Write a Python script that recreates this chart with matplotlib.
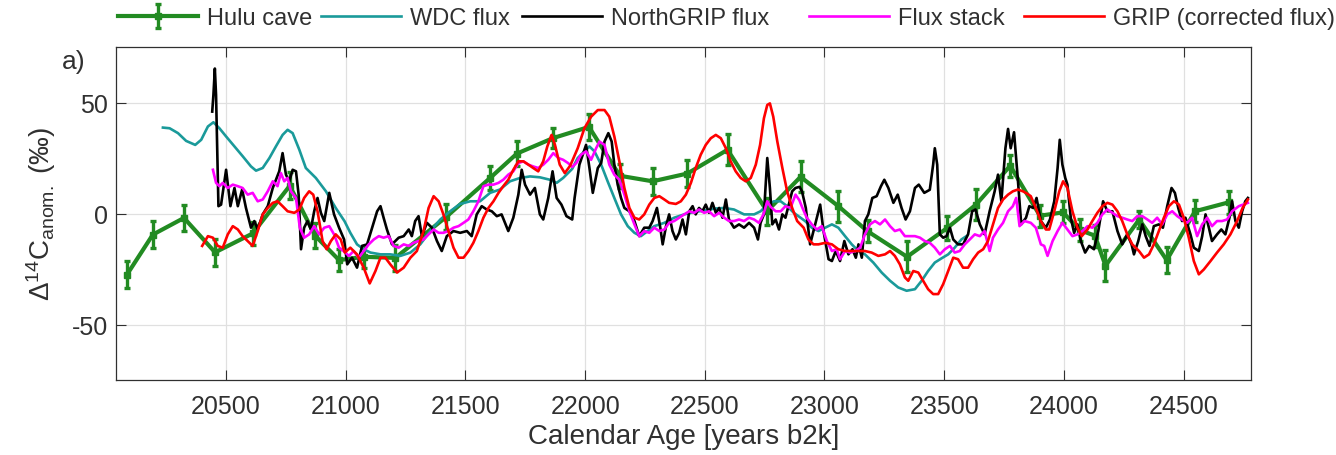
import matplotlib
matplotlib.use('Agg')
import matplotlib.pyplot as plt

plt.rcParams['font.family'] = ['Liberation Sans', 'DejaVu Sans']
plt.rcParams['mathtext.fontset'] = 'custom'
plt.rcParams['mathtext.rm'] = 'Liberation Sans'
plt.rcParams['mathtext.it'] = 'Liberation Sans:italic'
plt.rcParams['mathtext.bf'] = 'Liberation Sans:bold'

# ---------------- data ----------------
hulu_x = [20086, 20194, 20324, 20454, 20611, 20766, 20872, 20972, 21075, 21207,
          21420, 21603, 21715, 21867, 22016, 22145, 22282, 22427, 22595, 22760,
          22900, 23058, 23180, 23345, 23513, 23633, 23776, 23900, 23996, 24068,
          24130, 24174, 24315, 24430, 24548, 24688]
hulu_y = [-27.5, -9.5, -2, -17.5, -9, 12.5, -10, -21, -19.5, -20,
          -1.5, 16, 27, 34, 39, 17, 14.5, 18, 28.7, 1,
          16.5, 3.3, -8, -19.5, -6.5, 4, 21.5, -1, 0.5, -7.5,
          -10, -23.5, -2.7, -21, 1, 5]
hulu_err = [6, 6, 6, 6, 5, 6, 5.5, 5, 5, 6,
            6, 5.5, 5.5, 4.5, 6, 5.5, 6, 6, 7, 6,
            7, 7, 5, 7, 5.5, 7, 5, 5, 5, 5,
            5, 7, 4, 6, 5, 5]

wdc_x = [20236, 20264, 20299, 20333, 20371, 20396, 20424, 20447, 20472, 20500,
         20535, 20570, 20604, 20625, 20653, 20681, 20708, 20736, 20757, 20778,
         20806, 20833, 20875, 20917, 20958, 20995, 21019, 21047, 21075, 21103,
         21145, 21186, 21228, 21270, 21311, 21353, 21395, 21436, 21478, 21520,
         21561, 21603, 21644, 21686, 21728, 21770, 21811, 21853, 21881, 21908,
         21946, 21969, 21997, 22018, 22039, 22067, 22094, 22122, 22150, 22178,
         22206, 22233, 22261, 22289, 22331, 22372, 22414, 22456, 22497, 22539,
         22581, 22622, 22664, 22706, 22733, 22761, 22789, 22817, 22844, 22872,
         22900, 22919, 22947, 22975, 23003, 23031, 23058, 23086, 23114, 23142,
         23169, 23204, 23239, 23274, 23308, 23343, 23378, 23406, 23433, 23461,
         23489, 23517, 23544, 23572, 23593]
wdc_y = [38.7, 38.4, 36.2, 32.7, 30.9, 33.2, 39.2, 41.1, 38.4, 34.7,
         30.2, 25.7, 21.2, 19.3, 20.5, 25, 30.2, 35.4, 37.7, 36.2,
         28.7, 20.5, 16, 10, 2.5, -3.5, -8.7, -13.9, -16.1, -17.6,
         -18.4, -18.4, -19.1, -17.6, -13.9, -7.9, -2.7, 1, 4.3, 5.5,
         5.5, 9.3, 10.8, 14.5, 16, 16.7, 16.3, 15.2, 13.8, 16,
         20.1, 25, 28, 30.2, 28, 22, 14.5, 7, -0.4, -5.7,
         -8.7, -10.2, -7.9, -5.7, -4.2, -1.9, -0.4, 0.7, 1.3, 2.2,
         2.5, 1.8, -0.4, -0.4, 1, 4, 5.5, 5.5, 3.3, 0.3,
         -1.9, -3.4, -6.4, -7.9, -6.4, -4.9, -6.4, -10.2, -13.9, -16.9,
         -18.4, -22.1, -26.6, -30.3, -33.3, -34.8, -34.1, -30.3, -25.9, -22.1,
         -20.2, -18.4, -15.4, -11.7, -10.2]

ngrip_x = [20442, 20447, 20453, 20458, 20468, 20479, 20500, 20518, 20535, 20549,
           20567, 20583, 20604, 20618, 20632, 20653, 20674, 20695, 20722, 20736,
           20750, 20764, 20778, 20792, 20803, 20813, 20826, 20840, 20854, 20868,
           20882, 20896, 20910, 20931, 20951, 20972, 20993, 21006, 21026, 21047,
           21068, 21089, 21110, 21131, 21145, 21158, 21172, 21193, 21221, 21242,
           21263, 21276, 21290, 21304, 21318, 21339, 21360, 21381, 21401, 21422,
           21450, 21478, 21506, 21526, 21547, 21568, 21589, 21610, 21631, 21651,
           21679, 21700, 21721, 21735, 21749, 21770, 21790, 21811, 21825, 21846,
           21864, 21881, 21901, 21922, 21946, 21956, 21976, 22004, 22018, 22032,
           22053, 22067, 22081, 22097, 22111, 22122, 22136, 22150, 22164, 22185,
           22206, 22226, 22247, 22268, 22282, 22300, 22314, 22324, 22338, 22351,
           22365, 22379, 22393, 22407, 22421, 22435, 22449, 22462, 22476, 22490,
           22504, 22518, 22532, 22546, 22560, 22574, 22588, 22601, 22622, 22643,
           22664, 22685, 22706, 22722, 22733, 22747, 22761, 22772, 22782, 22796,
           22810, 22824, 22837, 22851, 22865, 22879, 22896, 22906, 22922, 22940,
           22961, 22982, 22996, 23017, 23031, 23047, 23065, 23083, 23100, 23117,
           23131, 23142, 23156, 23169, 23183, 23200, 23218, 23236, 23250, 23267,
           23288, 23306, 23322, 23339, 23357, 23378, 23394, 23417, 23440, 23454,
           23461, 23471, 23482, 23496, 23510, 23524, 23538, 23558, 23579, 23600,
           23617, 23631, 23649, 23669, 23690, 23711, 23725, 23739, 23756, 23767,
           23778, 23792, 23808, 23822, 23842, 23856, 23872, 23886, 23904, 23925,
           23942, 23960, 23974, 23983, 23994, 24006, 24015, 24029, 24043, 24057,
           24071, 24089, 24106, 24126, 24144, 24164, 24182, 24203, 24224, 24244,
           24265, 24283, 24293, 24311, 24328, 24342, 24358, 24376, 24397, 24414,
           24432, 24450, 24464, 24478, 24494, 24508, 24529, 24543, 24564, 24578,
           24592, 24606, 24619, 24640, 24658, 24675, 24692, 24703, 24717, 24731,
           24745, 24758, 24769]
ngrip_y = [45.9, 53.4, 65.3, 53.4, 3.3, 4, 19.7, 3.3, 11.5, 3.3,
           10.8, 2.5, -6.4, -3.4, -7.2, -0.4, 3.3, 11.5, 19, 27.2,
           17.5, 14.5, 19.7, 19, 8.5, -16.1, -6.4, -3.4, -7.2, 1,
           7, 0.3, -3.4, 9.3, -0.4, -6.4, -11.7, -22.9, -19.9, -24.4,
           -14.6, -13.9, -6.4, 1, 3.3, -1.9, -7.2, -13.9, -10.9, -10.2,
           -7.2, -10.2, -3.4, -1.2, -10.2, -4.2, -6.4, -12.4, -16.9, -10.2,
           -7.9, -8.7, -7.9, -10.2, -0.4, 3.3, 1.8, 1, -1.2, -0.4,
           -7.9, -1.9, 8.5, 19.7, 13, 8.5, 11.5, -0.4, -2.7, 7,
           19, 7, 4, -1.2, -2.7, 7, 22, 30.9, 20.5, 9.3,
           20.5, 22.7, 32.4, 36.2, 32.4, 22, 13, 7, 2.5, 1,
           -3.4, -10.2, -6.4, -6.4, -3.4, 2.5, -6.4, -13.9, -5.7, -0.4,
           -7.9, -11.7, -8.7, -2.7, -9.4, 1, 3.3, -0.4, 2.5, 1,
           4, 0.3, 4.8, 0.3, 2.5, -1.9, 6.3, -2.7, -6.4, -4.9,
           -6.4, -4.2, -6.4, -11.7, -4.2, -0.4, 25, 11.5, -4.9, -2.7,
           -7.2, -0.4, -1.9, 4, 10, 11.5, 12, 10, 2.5, -13.9,
           -4.9, 4, -7.9, -20.6, -21.4, -16.9, -21.4, -12.4, -18.4, -16.1,
           -19.9, -13.9, -19.9, -3.4, -0.4, 7, 7.8, 12.3, 15.2, 11.5,
           4.8, 8.5, 2.5, -2.7, 1, 11.5, 13, 9.3, 10.7, 22,
           29.4, 22, -9.4, -10.9, -10.2, -6.4, -11.7, -13.9, -13.9, -9.4,
           1, 1.8, -4.9, -9.4, 1, 10, 17.5, 5.5, 29.4, 38.1,
           29.4, 36.6, 15.2, -4.9, -1.9, 3.3, 2.5, 7, -3.4, -6.4,
           -2.7, 5.5, 20.5, 33.2, 22, 16, 13, -1.9, -8.7, -4.9,
           -12.4, -17.6, -14.6, -16.1, -7.9, 5.5, 1, 1, -7.9, -13.9,
           -9.4, -13.9, -18.4, -12.4, -4.9, -10.2, -14.6, -5.7, -4.9, -6.4,
           3.3, 11.5, 9.3, 2.5, -3.4, -1.9, -9.4, -15.4, -16.9, -10.2,
           -0.4, -6.4, -12.4, -9.4, -7.2, -9.4, -1.9, 5.5, -3.4, -6.4,
           1, 5.5, 7]

stack_x = [20445, 20458, 20472, 20486, 20507, 20528, 20549, 20569, 20590, 20611,
           20632, 20653, 20674, 20695, 20715, 20729, 20743, 20757, 20771, 20792,
           20808, 20826, 20847, 20868, 20889, 20910, 20931, 20951, 20972, 20994,
           21013, 21033, 21054, 21075, 21096, 21117, 21138, 21158, 21179, 21200,
           21221, 21242, 21263, 21283, 21304, 21325, 21346, 21367, 21388, 21408,
           21429, 21450, 21471, 21492, 21512, 21533, 21554, 21575, 21596, 21617,
           21638, 21658, 21679, 21700, 21721, 21742, 21763, 21783, 21804, 21825,
           21846, 21867, 21888, 21908, 21929, 21946, 21963, 21983, 22004, 22025,
           22046, 22060, 22081, 22101, 22122, 22143, 22164, 22185, 22206, 22226,
           22247, 22268, 22289, 22310, 22331, 22351, 22372, 22393, 22414, 22435,
           22456, 22476, 22497, 22518, 22539, 22560, 22581, 22601, 22622, 22643,
           22664, 22685, 22706, 22726, 22745, 22761, 22775, 22796, 22817, 22837,
           22858, 22879, 22895, 22908, 22926, 22947, 22968, 22989, 23010, 23031,
           23051, 23065, 23086, 23107, 23128, 23149, 23169, 23190, 23211, 23232,
           23253, 23274, 23294, 23315, 23336, 23357, 23378, 23399, 23419, 23440,
           23461, 23482, 23503, 23524, 23544, 23565, 23586, 23607, 23628, 23649,
           23669, 23690, 23704, 23725, 23746, 23767, 23787, 23801, 23815, 23836,
           23862, 23883, 23904, 23918, 23932, 23953, 23974, 23994, 24015, 24036,
           24057, 24078, 24099, 24119, 24140, 24161, 24182, 24203, 24224, 24244,
           24265, 24286, 24307, 24328, 24349, 24369, 24390, 24411, 24432, 24453,
           24474, 24494, 24515, 24536, 24557, 24578, 24599, 24619, 24640, 24661,
           24682, 24703, 24731, 24769]
stack_y = [19.7, 13.8, 12.3, 13.8, 11.5, 13, 12.3, 11.5, 8.5, 9.3,
           5.5, 6.3, 10, 14.5, 12.3, 18.2, 14.5, 16, 10, 7,
           -6.4, -10.9, -9.4, -5.7, -9.4, -6.4, -5.7, -9.4, -15.4, -17.2,
           -19.1, -16.9, -19.9, -16.9, -13.9, -11.7, -10.2, -10.9, -10.2, -14.6,
           -15.4, -13.9, -14.6, -13.2, -12.4, -11.7, -9.4, -7.2, -8.7, -8.7,
           -7.9, -6.4, -5.7, -4.2, -2.7, 1, 5.5, 12.3, 13, 13,
           13.8, 15.2, 17.5, 19, 22.7, 23.5, 22, 21.2, 20.5, 22,
           24.2, 27.2, 25, 24.2, 22.7, 21, 22.7, 26.5, 28, 24.2,
           29.4, 32.4, 30.9, 22, 17.5, 15.2, 8.5, 1, -4.9, -10.2,
           -7.9, -8.7, -6.4, -7.9, -7.2, -4.2, -3.4, -1.9, -0.4, 1,
           0.3, 1.8, 0.3, 1, -1.2, 0.3, -1.9, -3.4, -3.4, -2.7,
           -3.4, -1.9, -2.7, -4.2, -0.4, 5.5, 3, 1, 1, 3.3,
           2.5, 8.5, 6, 2.5, -1.9, -4.9, -7.2, -5.7, -12.4, -16.9,
           -16.1, -20.6, -16.9, -17.6, -16.9, -15.4, -9.4, -4.9, -3.4, -4.9,
           -2.7, -5.7, -7.9, -7.2, -10.2, -10.2, -10.2, -10.9, -12.4, -13.2,
           -15.4, -18.4, -16.1, -14.6, -17.6, -16.9, -13.9, -11.7, -9.4, -10.2,
           -7.9, -16.9, -10.9, -7.2, -4.2, 1, 3.3, 7, -5.7, -3.4,
           -4.2, -6.4, -13.9, -14.6, -19.1, -12.4, -7.9, -4.2, -7.2, -10.2,
           -9.4, -7.9, -5.7, -6.4, -4.2, -0.4, 1.8, 0.3, -1.2, -1.9,
           -2.7, -3.4, -1.2, -1.2, -2.7, -4.2, -1.9, -4.9, -0.4, 1,
           -1.2, -2.7, -4.2, -1.9, -10.2, -4.9, -1.9, -5.7, -3.4, -3.4,
           -2.7, 1, 3.3, 4.8]

grip_x = [20400, 20424, 20445, 20465, 20486, 20507, 20528, 20549, 20569, 20590,
          20611, 20632, 20653, 20674, 20695, 20715, 20736, 20757, 20785, 20806,
          20826, 20847, 20864, 20882, 20903, 20920, 20938, 20958, 20979, 20996,
          21019, 21047, 21075, 21100, 21124, 21145, 21165, 21186, 21214, 21242,
          21270, 21297, 21325, 21346, 21367, 21388, 21408, 21429, 21450, 21471,
          21492, 21513, 21533, 21554, 21575, 21596, 21617, 21638, 21658, 21679,
          21700, 21721, 21742, 21763, 21783, 21804, 21825, 21842, 21860, 21874,
          21894, 21915, 21938, 21969, 21997, 22025, 22053, 22081, 22101, 22122,
          22143, 22164, 22185, 22206, 22226, 22247, 22268, 22289, 22310, 22331,
          22351, 22379, 22400, 22421, 22442, 22462, 22483, 22504, 22525, 22546,
          22567, 22588, 22608, 22629, 22650, 22671, 22692, 22713, 22731, 22747,
          22761, 22772, 22786, 22803, 22824, 22844, 22865, 22886, 22913, 22933,
          22954, 22975, 23003, 23031, 23058, 23086, 23114, 23142, 23169, 23197,
          23225, 23253, 23274, 23294, 23315, 23336, 23350, 23371, 23392, 23412,
          23433, 23454, 23475, 23496, 23517, 23538, 23558, 23579, 23600, 23621,
          23642, 23663, 23683, 23704, 23725, 23746, 23767, 23787, 23808, 23829,
          23846, 23862, 23883, 23904, 23925, 23939, 23960, 23981, 23997, 24015,
          24036, 24057, 24075, 24099, 24119, 24140, 24161, 24182, 24203, 24224,
          24244, 24265, 24286, 24314, 24335, 24356, 24376, 24397, 24418, 24439,
          24460, 24481, 24501, 24522, 24543, 24564, 24585, 24613, 24640, 24668,
          24696, 24724, 24747, 24769]
grip_y = [-14.6, -10.2, -10.9, -14.6, -15.4, -9.4, -5.7, -7.2, -10.2, -12.4,
          -14.6, -7.9, -0.4, 2.5, 4.8, 5.5, 3.3, 1, 0.3, 1.8,
          7, 10, 8.5, 1, -12.4, -16.1, -12.4, -9.4, -11.7, -17.6,
          -15.4, -18.4, -24.4, -31.5, -25.9, -19.9, -19.9, -22.9, -26.6, -24.4,
          -19.9, -16.9, -7.9, 2.5, 7.8, 5.5, -0.4, -7.9, -15.4, -19.9,
          -19.9, -16.9, -13.2, -7.9, -1.9, 2.5, 5.5, 9.3, 12.3, 15.2,
          19.7, 23.5, 23.5, 22, 20.5, 19, 23.5, 30.2, 35.4, 30.9,
          22, 18.2, 21.6, 29.4, 38.4, 43.6, 46.6, 46.6, 43.6, 34.7,
          23.5, 11.5, 2.5, -1.9, -2.7, -0.4, 4, 7, 7.8, 6.3,
          4.8, 4.3, 5.5, 8.5, 13.8, 20.5, 26.5, 30.9, 33.9, 35.4,
          33.9, 29.4, 23.5, 19, 16, 14.5, 16, 22, 30.9, 42.9,
          48.9, 49.6, 43.6, 32.4, 20.5, 10, 2.5, -3.4, -6.4, -11.7,
          -13.9, -13.9, -13.2, -13.9, -16.1, -16.9, -16.9, -16.9, -16.9, -17.6,
          -19.1, -18.4, -16.9, -19.1, -22.9, -28.8, -30.3, -25.9, -26.6, -30.3,
          -34.1, -36.3, -36.3, -31.8, -25.9, -19.9, -20.6, -24.4, -24.4, -20.6,
          -17.6, -16.1, -12.4, -4.9, 2.5, 6.3, 8.5, 10, 10.8, 10,
          9, 7.8, 2.5, -3.4, -7.2, -7.2, 1, 10, 14.5, 11.5,
          1, -6.4, -10.2, -7.2, -3.4, 0.3, 3.3, 4.8, 4, 1,
          -3.4, -9.4, -13.9, -16.9, -19.9, -18.4, -13.9, -7.9, -1.9, 3.3,
          5.5, 4, -1.9, -10.9, -21.4, -27.4, -25.2, -21.4, -17.6, -13.9,
          -9.4, -3.4, 2.5, 6.3]

x_ticks = [20500, 21000, 21500, 22000, 22500, 23000, 23500, 24000, 24500]
y_ticks = [-50, 0, 50]

# ---------------- styling ----------------
c_hulu = '#228B22'
c_wdc = '#1A9A9A'
c_ngrip = '#000000'
c_stack = '#FF00FF'
c_grip = '#FF0000'
axis_col = '#303030'

W, H = 1336, 456
fig = plt.figure(figsize=(W / 100, H / 100), dpi=100)
ax = fig.add_axes([116 / W, 1 - 381 / H, (1251 - 116) / W, (381 - 48) / H])

h_hulu = ax.errorbar(hulu_x, hulu_y, yerr=hulu_err, color=c_hulu, lw=3.0,
                     elinewidth=2.4, capsize=2.5, capthick=2.4, marker='s',
                     markersize=4, label='Hulu cave', zorder=2)
h_wdc, = ax.plot(wdc_x, wdc_y, color=c_wdc, lw=1.9, label='WDC flux', zorder=3)
h_ngrip, = ax.plot(ngrip_x, ngrip_y, color=c_ngrip, lw=1.9, label='NorthGRIP flux', zorder=4)
h_stack, = ax.plot(stack_x, stack_y, color=c_stack, lw=1.9, label='Flux stack', zorder=5)
h_grip, = ax.plot(grip_x, grip_y, color=c_grip, lw=1.9, label='GRIP (corrected flux)', zorder=6)

ax.set_xlim(20040, 24782)
ax.set_ylim(-75, 75)
ax.set_xticks(x_ticks)
ax.set_yticks(y_ticks)
ax.set_xticklabels([str(t) for t in x_ticks])
ax.set_yticklabels([str(t) for t in y_ticks])
ax.grid(True, color='#e0e0e0', lw=0.9, zorder=0)
ax.set_axisbelow(True)
for s in ax.spines.values():
    s.set_color(axis_col)
    s.set_linewidth(0.9)
ax.tick_params(axis='both', which='both', direction='in', length=7, width=0.8,
               colors=axis_col, labelsize=18, top=True, right=True, pad=6)
ax.tick_params(axis='x', pad=10)

ax.set_xlabel('Calendar Age [years b2k]', fontsize=20, color=axis_col, labelpad=4)
ax.set_ylabel(r'$\Delta^{14}\mathrm{C}_{\mathrm{anom.}}$ (‰)', fontsize=20,
              color=axis_col, labelpad=10)
fig.text(62 / W, 1 - 62 / H, 'a)', fontsize=19, color=axis_col, va='center', ha='left')

# legend entries, each placed at its own position along the top
leg_items = [(h_hulu, 'Hulu cave', 118), (h_wdc, 'WDC flux', 321),
             (h_ngrip, 'NorthGRIP flux', 522), (h_stack, 'Flux stack', 809),
             (h_grip, 'GRIP (corrected flux)', 1024)]
for h, lab, xp in leg_items:
    fig.legend([h], [lab], loc='center left', bbox_to_anchor=(xp / W, 1 - 19 / H),
               frameon=False, fontsize=17, handlelength=3.4, handletextpad=0.35,
               borderpad=0, borderaxespad=0, labelcolor=axis_col)

fig.savefig('out.png', dpi=100)
